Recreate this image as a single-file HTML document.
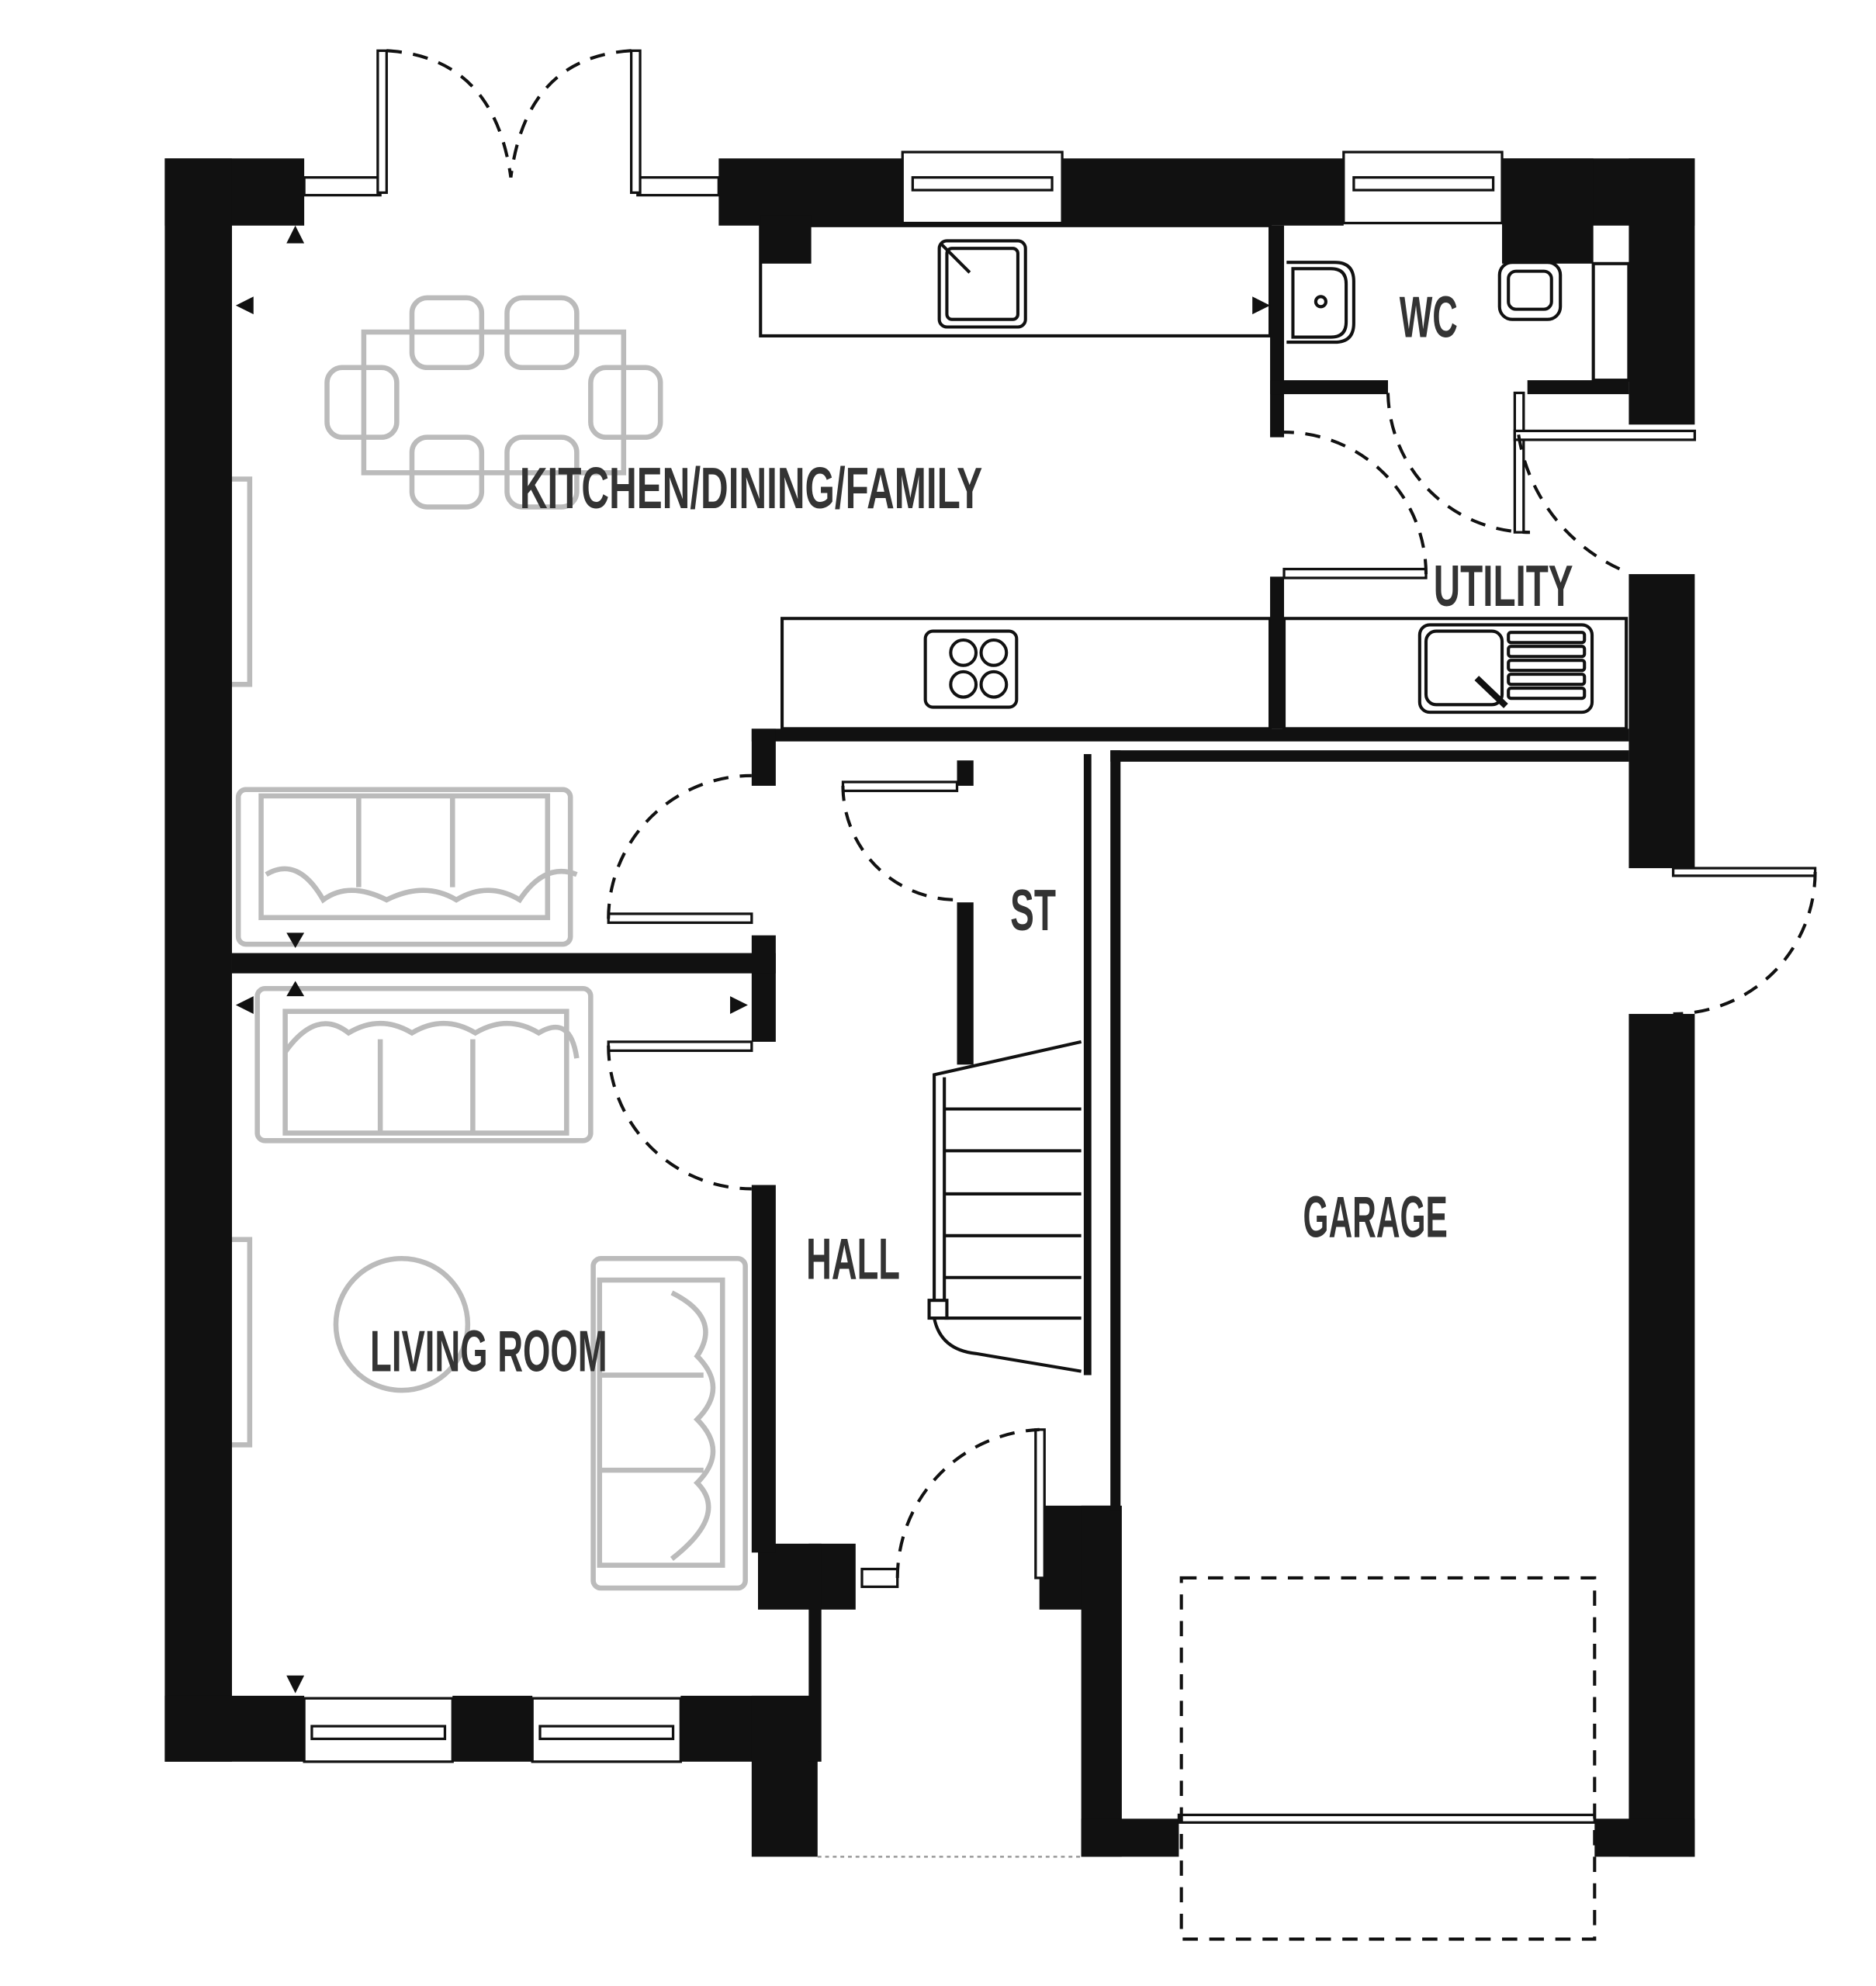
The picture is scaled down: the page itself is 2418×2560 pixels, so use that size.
<!DOCTYPE html>
<html><head><meta charset="utf-8"><style>
html,body{margin:0;padding:0;background:#fff}
svg{display:block}
text{font-family:"Liberation Sans Narrow","Liberation Sans",sans-serif;font-weight:bold;fill:#333}
</style></head><body>
<svg width="2418" height="2560" viewBox="0 0 1480 1567" preserveAspectRatio="none" xmlns="http://www.w3.org/2000/svg">
<rect width="1480" height="1567" fill="#fff"/>
<g fill="none" stroke="#bbb" stroke-width="4">
<rect x="287" y="262" width="205" height="111"/>
<rect x="325" y="235" width="55" height="55" rx="12"/><rect x="400" y="235" width="55" height="55" rx="12"/>
<rect x="325" y="345" width="55" height="55" rx="12"/><rect x="400" y="345" width="55" height="55" rx="12"/>
<rect x="258" y="290" width="55" height="55" rx="12"/><rect x="466" y="290" width="55" height="55" rx="12"/>
<rect x="188" y="623" width="262" height="122" rx="6"/>
<rect x="206" y="628" width="226" height="96"/>
<line x1="283" y1="628" x2="283" y2="700"/><line x1="357" y1="628" x2="357" y2="700"/>
<path d="M210 690 q25 -15 45 20 q20 -15 50 0 q30 -15 55 0 q25 -15 50 0 q20 -30 45 -20"/>
<rect x="203" y="780" width="263" height="120" rx="6"/>
<rect x="225" y="798" width="222" height="96"/>
<line x1="300" y1="820" x2="300" y2="894"/><line x1="373" y1="820" x2="373" y2="894"/>
<path d="M225 830 q25 -35 50 -15 q25 -15 50 0 q25 -15 50 0 q25 -15 50 0 q25 -15 30 20"/>
<rect x="468" y="993" width="120" height="260" rx="6"/>
<rect x="473" y="1010" width="97" height="225"/>
<line x1="473" y1="1085" x2="555" y2="1085"/><line x1="473" y1="1160" x2="555" y2="1160"/>
<path d="M530 1020 q40 20 20 50 q25 25 0 50 q25 25 0 50 q25 25 -20 60"/>
<circle cx="317" cy="1045" r="52"/>
<rect x="181" y="378" width="16" height="162"/><rect x="181" y="978" width="16" height="162"/>
</g>
<g fill="none" stroke="#111" stroke-width="2.5">
<rect x="600" y="178" width="402" height="87"/>
<rect x="617" y="488" width="385" height="87"/>
<rect x="1013" y="488" width="270" height="87"/>
<rect x="741" y="190" width="68" height="68" rx="6"/><rect x="747" y="196" width="56" height="56" rx="4"/>
<line x1="742" y1="192" x2="765" y2="215"/>
<rect x="730" y="498" width="72" height="60" rx="6"/>
<circle cx="760" cy="515" r="10"/><circle cx="784" cy="515" r="10"/><circle cx="760" cy="540" r="10"/><circle cx="784" cy="540" r="10"/>
<rect x="1120" y="493" width="136" height="69" rx="8"/><rect x="1125" y="498" width="60" height="58" rx="8"/>
<rect x="1190" y="499" width="60" height="8" rx="2"/><rect x="1190" y="510" width="60" height="8" rx="2"/><rect x="1190" y="521" width="60" height="8" rx="2"/><rect x="1190" y="532" width="60" height="8" rx="2"/><rect x="1190" y="543" width="60" height="8" rx="2"/>
<line x1="1165" y1="535" x2="1188" y2="557" stroke-width="5"/>
<path d="M1015 207 h38 q15 0 15 15 v33 q0 15 -15 15 h-38"/><path d="M1020 212 h30 q12 0 12 12 v30 q0 12 -12 12 h-30 z"/>
<circle cx="1042" cy="238" r="4"/>
<rect x="1183" y="207" width="48" height="45" rx="10"/><rect x="1190" y="214" width="34" height="30" rx="6"/>
<rect x="1257" y="208" width="28" height="92" fill="#fff"/>
</g>
<g fill="#111">
<rect x="130" y="125" width="110" height="53"/>
<rect x="130" y="125" width="53" height="1265"/>
<rect x="567" y="125" width="145" height="53"/><rect x="600" y="170" width="40" height="38"/>
<rect x="838" y="125" width="222" height="53"/>
<rect x="1185" y="125" width="152" height="53"/><rect x="1185" y="125" width="72" height="83"/>
<rect x="1285" y="125" width="52" height="210"/>
<rect x="1285" y="453" width="52" height="232"/>
<rect x="1285" y="800" width="52" height="665"/>
<rect x="1258" y="1435" width="79" height="30"/>
<rect x="130" y="1338" width="110" height="52"/><rect x="357" y="1338" width="63" height="52"/>
<rect x="537" y="1338" width="108" height="52"/>
<rect x="593" y="1338" width="52" height="127"/>
<rect x="598" y="1218" width="77" height="52"/><rect x="638" y="1218" width="10" height="172"/>
<rect x="593" y="935" width="19" height="290"/>
<rect x="820" y="1188" width="62" height="82"/><rect x="853" y="1188" width="32" height="277"/>
<rect x="853" y="1435" width="77" height="30"/>
<rect x="855" y="595" width="6" height="490"/><rect x="876" y="592" width="8" height="600"/>
<rect x="593" y="575" width="692" height="10"/><rect x="876" y="592" width="409" height="9"/>
<rect x="593" y="575" width="19" height="45"/><rect x="593" y="738" width="19" height="84"/>
<rect x="183" y="752" width="429" height="16"/>
<rect x="1002" y="178" width="11" height="167"/><rect x="1002" y="300" width="93" height="11"/><rect x="1205" y="300" width="80" height="11"/>
<rect x="1002" y="455" width="11" height="120"/>
<rect x="755" y="600" width="13" height="20"/><rect x="755" y="712" width="13" height="128"/>
<path d="M226 192 l7 -14 l7 14z"/><path d="M200 234 l-14 7 l14 7z"/><path d="M988 234 l14 7 l-14 7z"/>
<path d="M226 736 l7 12 l7 -12z"/><path d="M226 786 l7 -12 l7 12z"/><path d="M200 786 l-14 7 l14 7z"/><path d="M576 786 l14 7 l-14 7z"/>
<path d="M226 1322 l7 14 l7 -14z"/>
</g>
<g fill="#fff" stroke="#111" stroke-width="2">
<rect x="712" y="120" width="126" height="56"/><rect x="720" y="140" width="110" height="10"/>
<rect x="1060" y="120" width="125" height="56"/><rect x="1068" y="140" width="110" height="10"/>
<rect x="240" y="1340" width="117" height="50"/><rect x="246" y="1362" width="105" height="10"/>
<rect x="420" y="1340" width="117" height="50"/><rect x="426" y="1362" width="105" height="10"/>
<rect x="240" y="140" width="60" height="14"/><rect x="503" y="140" width="64" height="14"/>
<rect x="298" y="40" width="7" height="112"/><rect x="498" y="40" width="7" height="112"/>
<rect x="480" y="721" width="113" height="7"/><rect x="480" y="822" width="113" height="7"/>
<rect x="665" y="617" width="90" height="7"/><rect x="817" y="1128" width="7" height="117"/>
<rect x="680" y="1238" width="28" height="14"/>
<rect x="1013" y="449" width="112" height="7"/><rect x="1195" y="310" width="7" height="110"/>
<rect x="1195" y="340" width="142" height="7"/><rect x="1320" y="685" width="112" height="6"/>
<rect x="930" y="1432" width="328" height="6"/>
</g>
<g fill="none" stroke="#111" stroke-width="2.5" stroke-dasharray="12 9">
<path d="M305 40 Q390 45 403 140"/><path d="M498 40 Q415 45 403 140"/>
<path d="M480 725 A113 113 0 0 1 593 612"/><path d="M480 825 A113 113 0 0 0 593 938"/>
<path d="M665 620 A90 90 0 0 0 755 710"/><path d="M708 1245 A117 117 0 0 1 820 1128"/>
<path d="M1125 453 A112 112 0 0 0 1013 341"/><path d="M1095 310 A112 112 0 0 0 1207 420"/>
<path d="M1198 343 A140 140 0 0 0 1285 452"/><path d="M1432 688 A112 112 0 0 1 1320 800"/>
<rect x="932" y="1245" width="326" height="285"/>
</g>
<line x1="645" y1="1465" x2="853" y2="1465" stroke="#999" stroke-width="1.5" stroke-dasharray="3 3"/>
<g fill="none" stroke="#111" stroke-width="2.5">
<path d="M853 822 L737 848 V1040 Q742 1065 770 1068 L853 1082"/>
<path d="M745 850 V1030"/>
<line x1="745" y1="875" x2="853" y2="875"/><line x1="745" y1="908" x2="853" y2="908"/><line x1="745" y1="942" x2="853" y2="942"/>
<line x1="745" y1="975" x2="853" y2="975"/><line x1="745" y1="1008" x2="853" y2="1008"/><line x1="745" y1="1040" x2="853" y2="1040"/>
<rect x="733" y="1026" width="14" height="14" fill="#fff"/>
</g>
<text x="410" y="401" font-size="46" textLength="365" lengthAdjust="spacingAndGlyphs">KITCHEN/DINING/FAMILY</text>
<text x="1104" y="266" font-size="46" textLength="46" lengthAdjust="spacingAndGlyphs">WC</text>
<text x="1131" y="478" font-size="46" textLength="110" lengthAdjust="spacingAndGlyphs">UTILITY</text>
<text x="797" y="734" font-size="46" textLength="36" lengthAdjust="spacingAndGlyphs">ST</text>
<text x="636" y="1009" font-size="46" textLength="74" lengthAdjust="spacingAndGlyphs">HALL</text>
<text x="292" y="1082" font-size="46" textLength="187" lengthAdjust="spacingAndGlyphs">LIVING ROOM</text>
<text x="1028" y="976" font-size="46" textLength="114" lengthAdjust="spacingAndGlyphs">GARAGE</text>
</svg>
</body></html>
